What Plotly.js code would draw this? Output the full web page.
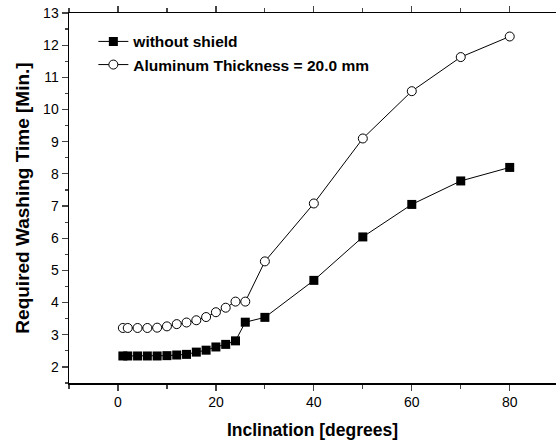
<!DOCTYPE html>
<html><head><meta charset="utf-8">
<script src="https://cdn.plot.ly/plotly-3.0.1.min.js"></script>
<style>html,body{margin:0;padding:0;background:#fff}#chart{width:556px;height:446px}</style>
</head><body><div id="chart"></div>
<script>
const inclination = [1, 2, 4, 6, 8, 10, 12, 14, 16, 18, 20, 22, 24, 26, 30, 40, 50, 60, 70, 80];
const withoutShield = [2.34, 2.34, 2.34, 2.34, 2.34, 2.35, 2.37, 2.39, 2.46, 2.52, 2.62, 2.70, 2.81, 3.39, 3.54, 4.69, 6.04, 7.05, 7.78, 8.20];
const aluminum20mm = [3.21, 3.21, 3.21, 3.21, 3.22, 3.26, 3.33, 3.38, 3.45, 3.55, 3.70, 3.84, 4.03, 4.03, 5.28, 7.08, 9.10, 10.57, 11.63, 12.27];
const seriesNames = ['without shield', 'Aluminum Thickness = 20.0 mm'];
const xTitle = 'Inclination [degrees]';
const yTitle = 'Required Washing Time [Min.]';

const font = 'Arial, "Liberation Sans", sans-serif';
const traces = [
  {x: inclination, y: withoutShield, name: seriesNames[0], mode: 'lines+markers', type: 'scatter',
   line: {color: '#000', width: 1}, marker: {symbol: 'square', size: 9, color: '#000', line: {color: '#000', width: 0}}},
  {x: inclination, y: aluminum20mm, name: seriesNames[1], mode: 'lines+markers', type: 'scatter',
   line: {color: '#000', width: 1}, marker: {symbol: 'circle', size: 9, color: '#fff', line: {color: '#000', width: 1}}}
];
const layout = {
  width: 556, height: 446,
  margin: {l: 69, r: 0, t: 13, b: 63},
  paper_bgcolor: '#fff', plot_bgcolor: '#fff',
  font: {family: font, color: '#000'},
  showlegend: true,
  legend: {x: 0.05, y: 0.968, xanchor: 'left', yanchor: 'top', bgcolor: 'rgba(0,0,0,0)',
           font: {family: font, size: 15.5, color: '#000', weight: 'bold'}, tracegroupgap: 0},
  xaxis: {range: [-10, 89.45], tickmode: 'linear', tick0: 0, dtick: 20, ticks: 'outside', ticklen: 6, tickwidth: 1.2,
          minor: {dtick: 10, ticks: 'outside', ticklen: 4, tickwidth: 1.2, showgrid: false},
          showline: true, linewidth: 1.5, linecolor: '#000', mirror: 'ticks', showgrid: false, zeroline: false,
          tickfont: {size: 14, family: font},
          title: {text: xTitle, font: {size: 17.5, family: font, weight: 'bold'}, standoff: 14}},
  yaxis: {range: [1.5, 13], tickmode: 'linear', tick0: 2, dtick: 1, ticks: 'outside', ticklen: 6, tickwidth: 1.2,
          minor: {dtick: 0.5, ticks: 'outside', ticklen: 3, tickwidth: 1.2, showgrid: false},
          showline: true, linewidth: 1.5, linecolor: '#000', mirror: false, showgrid: false, zeroline: false,
          tickfont: {size: 14, family: font},
          title: {text: yTitle, font: {size: 19, family: font, weight: 'bold'}, standoff: 8}}
};
Plotly.newPlot('chart', traces, layout, {displayModeBar: false, staticPlot: true});
</script></body></html>
